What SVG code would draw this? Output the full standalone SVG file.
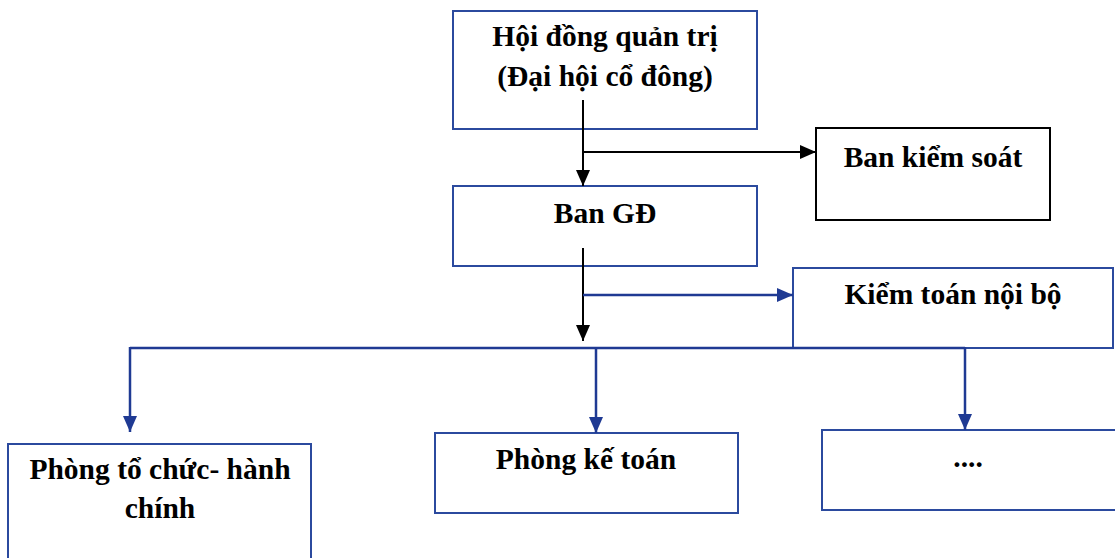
<svg xmlns="http://www.w3.org/2000/svg" width="1115" height="558" viewBox="0 0 1115 558">
<defs>
<marker id="ab" markerUnits="userSpaceOnUse" markerWidth="16" markerHeight="16" viewBox="0 0 16 16" refX="16" refY="8" orient="auto"><path d="M0,1 L16,8 L0,15 Z" fill="#000"/></marker>
<marker id="au" markerUnits="userSpaceOnUse" markerWidth="16" markerHeight="16" viewBox="0 0 16 16" refX="16" refY="8" orient="auto"><path d="M0,1 L16,8 L0,15 Z" fill="#1F3A93"/></marker>
</defs>
<style>
.box{fill:#fff;stroke:#2B4A9E;stroke-width:2}
.bk{fill:#fff;stroke:#000;stroke-width:2}
.t{font-family:"Liberation Serif","Times New Roman",serif;font-weight:bold;font-size:29.5px;fill:#000;text-anchor:middle}
.lb{stroke:#000;stroke-width:2;fill:none}
.lu{stroke:#1F3A93;stroke-width:2.5;fill:none}
</style>
<rect width="1115" height="558" fill="#fff"/>
<g id="n1"><rect class="box" x="453" y="11" width="304" height="118"/><text class="t" x="605" y="46">Hội đồng quản trị</text><text class="t" x="605" y="86">(Đại hội cổ đông)</text></g>
<g id="n2"><rect class="bk" x="816" y="128" width="234" height="92"/><text class="t" x="933" y="167">Ban kiểm soát</text></g>
<g id="n3"><rect class="box" x="453" y="186" width="304" height="80"/><text class="t" x="605" y="223">Ban GĐ</text></g>
<g id="n4"><rect class="box" x="793" y="268" width="320" height="80"/><text class="t" x="953" y="304">Kiểm toán nội bộ</text></g>
<g id="n5"><rect class="box" x="8" y="444" width="303" height="130"/><text class="t" x="160" y="479">Phòng tổ chức- hành</text><text class="t" x="160" y="518">chính</text></g>
<g id="n6"><rect class="box" x="435" y="433" width="303" height="80"/><text class="t" x="586" y="469">Phòng kế toán</text></g>
<g id="n7"><rect class="box" x="822" y="430" width="300" height="80"/><text class="t" x="968" y="467">....</text></g>
<g id="connectors">
<line class="lb" x1="583" y1="100" x2="583" y2="186" marker-end="url(#ab)"/>
<line class="lb" x1="583" y1="152" x2="816" y2="152" marker-end="url(#ab)"/>
<line class="lb" x1="583" y1="248" x2="583" y2="341" marker-end="url(#ab)"/>
<line class="lu" x1="583" y1="295" x2="793" y2="295" marker-end="url(#au)"/>
<line class="lu" x1="130" y1="348" x2="965" y2="348"/>
<line class="lu" x1="130" y1="347" x2="130" y2="432" marker-end="url(#au)"/>
<line class="lu" x1="596" y1="348" x2="596" y2="433" marker-end="url(#au)"/>
<line class="lu" x1="965" y1="347" x2="965" y2="430" marker-end="url(#au)"/>
</g>
</svg>
